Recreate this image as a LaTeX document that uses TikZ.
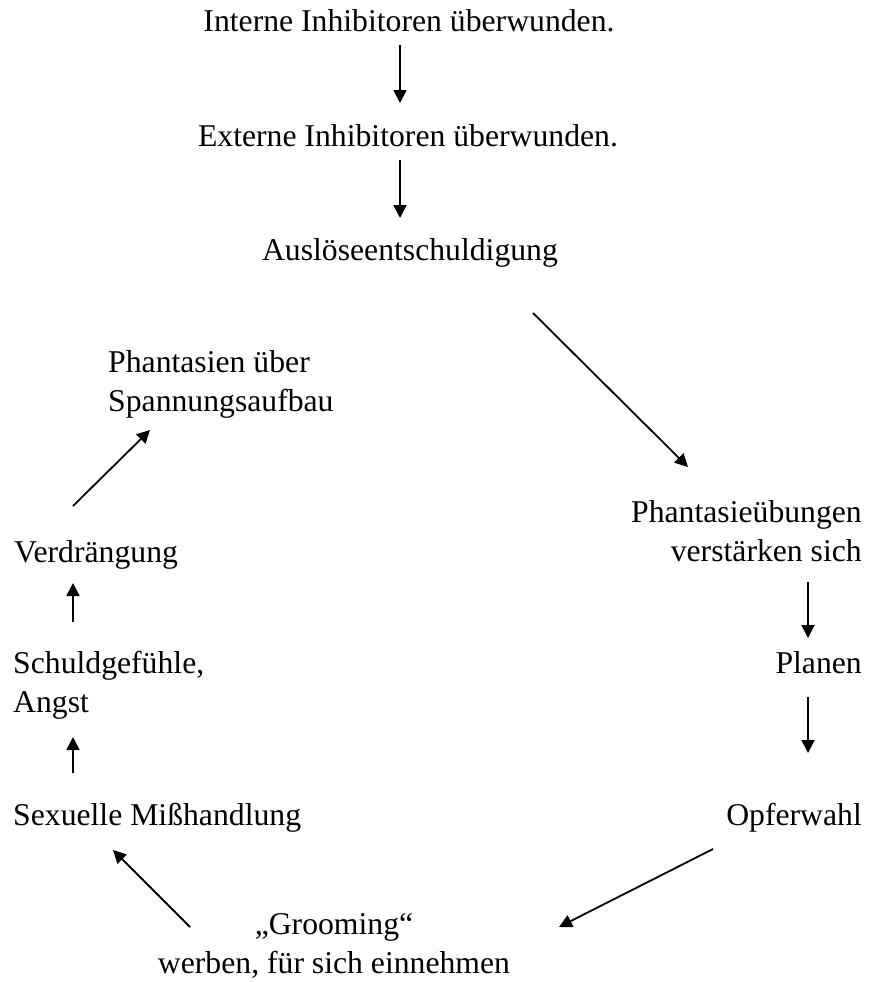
\documentclass[tikz,border=0pt]{standalone}
\usepackage{fontspec}
\setmainfont{Liberation Serif}
\usetikzlibrary{arrows.meta,calc}

\tikzset{
  txt/.style={inner sep=0pt, font=\fontsize{31.7}{39}\selectfont},
  pfeil/.style={line width=1.8pt, -{Triangle[length=13pt,width=13pt]}}
}

\begin{document}
\begin{tikzpicture}[x=1pt,y=-1pt]
    \useasboundingbox (0,0) rectangle (870,982);
    % Kette oben
    \node[txt, anchor=base] (intern) at (409,32) {Interne Inhibitoren überwunden.};
    \node[txt, anchor=base] (extern) at (408,146) {Externe Inhibitoren überwunden.};
    \node[txt, anchor=base] (ausl) at (410,260) {Auslöseentschuldigung};
    % rechte Seite
    \node[txt, anchor=base east, align=right] (uebung) at (862,561) {Phantasieübungen\\verstärken sich};
    \node[txt, anchor=base east] (planen) at (862,673) {Planen};
    \node[txt, anchor=base east] (opfer) at (862,825) {Opferwahl};
    % unten
    \node[txt, anchor=base, align=center] (groom) at (334,973) {„Grooming“\\werben, für sich einnehmen};
    % linke Seite
    \node[txt, anchor=base west] (miss) at (13,825) {Sexuelle Mißhandlung};
    \node[txt, anchor=base west, align=left] (schuld) at (13,712) {Schuldgefühle,\\Angst};
    \node[txt, anchor=base west] (verdr) at (14,562) {Verdrängung};
    \node[txt, anchor=base west, align=left] (spann) at (108,411) {Phantasien über\\Spannungsaufbau};

    \draw[pfeil] ($(intern.base)+(-9,13)$) -- ($(extern.base)+(-8,-43)$);
    \draw[pfeil] ($(extern.base)+(-8,14)$) -- ($(ausl.base)+(-10,-42)$);
    \draw[pfeil] ($(ausl.base)+(123,53)$) -- ($(uebung.base east)+(-174,-94)$);
    \draw[pfeil] ($(uebung.base east)+(-54,21)$) -- ($(planen.base east)+(-54,-35)$);
    \draw[pfeil] ($(planen.base east)+(-54,24)$) -- ($(opfer.base east)+(-54,-72)$);
    \draw[pfeil] ($(opfer.base east)+(-149,24)$) -- ($(groom.base)+(225,-46)$);
    \draw[pfeil] ($(groom.base)+(-144,-46)$) -- ($(miss.base west)+(100,25)$);
    \draw[pfeil] ($(miss.base west)+(60,-52)$) -- ($(schuld.base west)+(60,25)$);
    \draw[pfeil] ($(schuld.base west)+(60,-90)$) -- ($(verdr.base west)+(59,21)$);
    \draw[pfeil] ($(verdr.base west)+(59,-56)$) -- ($(spann.base west)+(42,19)$);
\end{tikzpicture}
\end{document}
